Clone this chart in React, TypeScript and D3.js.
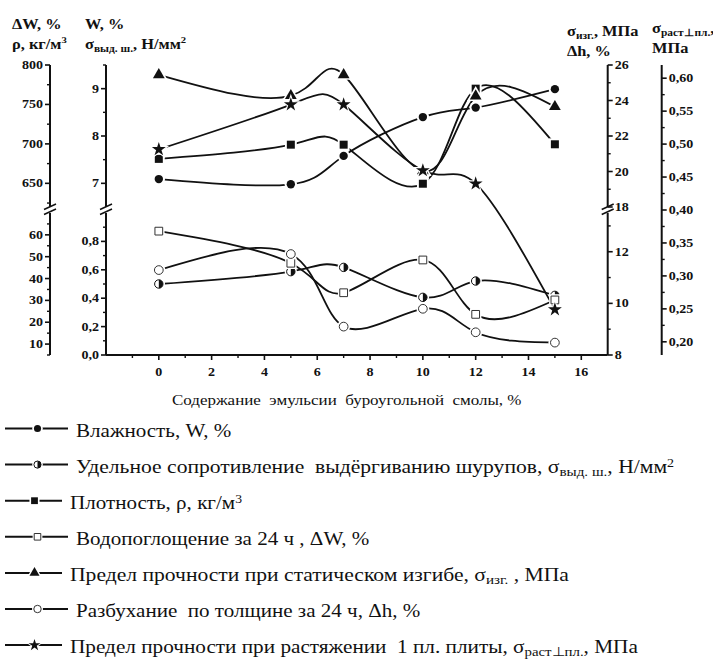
import React from 'react';
import * as d3 from 'd3';

// ---- data ----
const xValues = [0, 5, 7, 10, 12, 15];
const moisture = [7.09, 6.98, 7.58, 8.4, 8.6, 8.99];
const screwResistance = [0.5, 0.587, 0.617, 0.406, 0.521, 0.42];
const density = [681, 699, 699, 649.5, 770, 699.5];
const waterAbsorption = [61.7, 47.0, 33.5, 48.5, 23.6, 30.2];
const bendingStrength = [25.45, 24.27, 25.45, 20.03, 24.25, 23.65];
const swelling = [11.29, 11.91, 9.1, 9.79, 8.88, 8.48];
const tensileStrength = [0.492, 0.56, 0.56, 0.46, 0.44, 0.249];

const xTicks = [0, 2, 4, 6, 8, 10, 12, 14, 16];
const xMinorTicks = [-1, 1, 3, 5, 7, 9, 11, 13, 15];
const densityTicks = [650, 700, 750, 800];
const densityMinor = [625, 675, 725, 775];
const waterTicks = [10, 20, 30, 40, 50, 60];
const waterMinor = [5, 15, 25, 35, 45, 55, 65];
const moistureTicks = [7, 8, 9];
const moistureMinor = [7.5, 8.5, 9.5];
const screwTicks = [0, 0.2, 0.4, 0.6, 0.8];
const screwMinor = [0.1, 0.3, 0.5, 0.7, 0.9];
const bendTicks = [18, 20, 22, 24, 26];
const bendMinor = [19, 21, 23, 25];
const swellTicks = [8, 10, 12];
const swellMinor = [9, 11, 13];
const tensileTicks = [0.2, 0.25, 0.3, 0.35, 0.4, 0.45, 0.5, 0.55, 0.6];
const tensileMinor = [0.225, 0.275, 0.325, 0.375, 0.425, 0.475, 0.525, 0.575];

// ---- layout ----
const W = 713, H = 659;
const UP: [number, number] = [207, 65];
const LO: [number, number] = [355, 213];
const X0 = 106, X1 = 607.7;
const SX = 1.17;
const INK = '#111';

const xScale = d3.scaleLinear([-2, 17], [X0, X1]);
const densityScale = d3.scaleLinear([620, 800], UP);
const waterScale = d3.scaleLinear([5, 70], LO);
const moistureScale = d3.scaleLinear([6.5, 9.5], UP);
const screwScale = d3.scaleLinear([0, 1], LO);
const bendScale = d3.scaleLinear([18, 26], UP);
const swellScale = d3.scaleLinear([8, 13.5], LO);
const tensileScale = d3.scaleLinear([0.18, 0.62], [355, 65]);

const comma = (f: string) => (v: number) => d3.format(f)(v).replace('.', ',');
const nb = (s: string) => s.replace(/  /g, '\u00a0 ');

type Part = { t: string; sub?: boolean; sup?: boolean };

function renderParts(parts: Part[], size: number) {
  let shift = 0;
  return parts.map((p, i) => {
    const target = p.sub ? 3 : p.sup ? -6 : 0;
    const dy = target - shift;
    shift = target;
    return (
      <tspan key={i} dy={dy} fontSize={p.sub ? size * 0.7 : p.sup ? size * 0.65 : size}>
        {nb(p.t)}
      </tspan>
    );
  });
}

function T({ x, y, anchor = 'start', size = 12, weight = 'normal', sx = SX, parts, children }: any) {
  return (
    <g transform={`translate(${x},${y}) scale(${sx},1)`}>
      <text
        x={0}
        y={0}
        textAnchor={anchor}
        fontSize={size}
        fontWeight={weight}
        fill={INK}
        fontFamily="Liberation Serif"
        style={{ fontFamily: '"Liberation Serif"' }}
      >
        {parts ? renderParts(parts, size) : nb(String(children))}
      </text>
    </g>
  );
}

type Seg = { scale: d3.ScaleLinear<number, number>; major: number[]; minor: number[]; fmt: (v: number) => string };

function VAxis({ x, side, segs, brk }: { x: number; side: 'left' | 'right'; segs: Seg[]; brk?: boolean }) {
  const dir = side === 'left' ? -1 : 1;
  return (
    <g>
      {segs.map((s, i) => {
        const r = s.scale.range();
        return (
          <g key={i}>
            <line x1={x} x2={x} y1={r[0]} y2={r[1]} stroke={INK} strokeWidth={2} />
            {s.major.map((v) => (
              <g key={'M' + v}>
                <line x1={x} x2={x + dir * 5} y1={s.scale(v)} y2={s.scale(v)} stroke={INK} strokeWidth={1.6} />
                <T x={x + dir * 7} y={s.scale(v) + 4} anchor={side === 'left' ? 'end' : 'start'} size={12} weight="bold">
                  {s.fmt(v)}
                </T>
              </g>
            ))}
            {s.minor.map((v) => (
              <line key={'m' + v} x1={x} x2={x + dir * 3} y1={s.scale(v)} y2={s.scale(v)} stroke={INK} strokeWidth={1.4} />
            ))}
          </g>
        );
      })}
      {brk && (
        <g stroke={INK} strokeWidth={1.5}>
          <line x1={x - 6} x2={x + 6} y1={209.5} y2={204} />
          <line x1={x - 6} x2={x + 6} y1={214.5} y2={209} />
        </g>
      )}
    </g>
  );
}

type Kind = 'dot' | 'half' | 'sq' | 'osq' | 'tri' | 'ocirc' | 'star';

function Marker({ kind, x, y, scale = 1 }: { kind: Kind; x: number; y: number; scale?: number }) {
  const k = scale;
  const sym = (type: d3.SymbolType, size: number) => d3.symbol(type, size * k * k)() as string;
  const halo = (type: d3.SymbolType, size: number) => (
    <path d={d3.symbol(type, size * k * k * 2.2)() as string} fill="#fff" />
  );
  let body: React.ReactNode = null;
  if (kind === 'dot') body = <>{halo(d3.symbolCircle, 55)}<path d={sym(d3.symbolCircle, 55)} fill={INK} /></>;
  if (kind === 'half') {
    const r = 4.2 * k;
    body = (
      <>
        {halo(d3.symbolCircle, 55)}
        <circle r={r} fill="#fff" stroke={INK} strokeWidth={1} />
        <path d={`M0,${-r}A${r},${r} 0 0 1 0,${r}Z`} fill={INK} />
      </>
    );
  }
  if (kind === 'sq') body = <>{halo(d3.symbolSquare, 64)}<path d={sym(d3.symbolSquare, 64)} fill={INK} /></>;
  if (kind === 'osq') body = <>{halo(d3.symbolSquare, 60)}<path d={sym(d3.symbolSquare, 60)} fill="#fff" stroke="#333" strokeWidth={1} /></>;
  if (kind === 'tri') body = <>{halo(d3.symbolTriangle, 60)}<path d={sym(d3.symbolTriangle, 60)} fill={INK} /></>;
  if (kind === 'ocirc') body = <>{halo(d3.symbolCircle, 60)}<path d={sym(d3.symbolCircle, 60)} fill="#fff" stroke="#333" strokeWidth={1} /></>;
  if (kind === 'star') body = <>{halo(d3.symbolStar, 60)}<path d={sym(d3.symbolStar, 60)} fill={INK} /></>;
  return <g transform={`translate(${x},${y})`}>{body}</g>;
}

const series: { values: number[]; scale: d3.ScaleLinear<number, number>; kind: Kind }[] = [
  { values: moisture, scale: moistureScale, kind: 'dot' },
  { values: screwResistance, scale: screwScale, kind: 'half' },
  { values: density, scale: densityScale, kind: 'sq' },
  { values: waterAbsorption, scale: waterScale, kind: 'osq' },
  { values: bendingStrength, scale: bendScale, kind: 'tri' },
  { values: swelling, scale: swellScale, kind: 'ocirc' },
  { values: tensileStrength, scale: tensileScale, kind: 'star' },
];

const LS = 18;
const legendRows: { kind: Kind; tx: number; sx: number; parts: Part[] }[] = [
  { kind: 'dot', tx: 76, sx: 1.17, parts: [{ t: 'Влажность, W, %' }] },
  { kind: 'half', tx: 76, sx: 1.2, parts: [{ t: 'Удельное сопротивление  выдёргиванию шурупов, σ' }, { t: 'выд. ш.', sub: true }, { t: ', Н/мм' }, { t: '2', sup: true }] },
  { kind: 'sq', tx: 70, sx: 1.17, parts: [{ t: 'Плотность, ρ, кг/м' }, { t: '3', sup: true }] },
  { kind: 'osq', tx: 76, sx: 1.17, parts: [{ t: 'Водопоглощение за 24 ч , ΔW, %' }] },
  { kind: 'tri', tx: 70, sx: 1.2, parts: [{ t: 'Предел прочности при статическом изгибе, σ' }, { t: 'изг.', sub: true }, { t: ' , МПа' }] },
  { kind: 'ocirc', tx: 76, sx: 1.17, parts: [{ t: 'Разбухание  по толщине за 24 ч, Δh, %' }] },
  { kind: 'star', tx: 70, sx: 1.18, parts: [{ t: 'Предел прочности при растяжении  1 пл. плиты, σ' }, { t: 'раст⊥пл.', sub: true }, { t: ', МПа' }] },
];

export default function App() {
  const lineGen = d3.line<[number, number]>().x((d) => d[0]).y((d) => d[1]).curve(d3.curveNatural);
  const TS = 14;
  return (
    <svg width={W} height={H} style={{ position: 'absolute', left: 0, top: 0, background: '#fff' }}>
      <rect width={W} height={H} fill="#fff" />
      {/* axis titles */}
      <T x={12} y={29} size={TS} weight="bold" parts={[{ t: 'ΔW, %' }]} />
      <T x={12} y={49} size={TS} weight="bold" parts={[{ t: 'ρ, кг/м' }, { t: '3', sup: true }]} />
      <T x={85} y={29} size={TS} weight="bold" parts={[{ t: 'W, %' }]} />
      <T x={85} y={49} size={TS} weight="bold" parts={[{ t: 'σ' }, { t: 'выд. ш.', sub: true }, { t: ', Н/мм' }, { t: '2', sup: true }]} />
      <T x={567} y={36} size={TS} weight="bold" parts={[{ t: 'σ' }, { t: 'изг.', sub: true }, { t: ', МПа' }]} />
      <T x={567} y={56} size={TS} weight="bold" parts={[{ t: 'Δh, %' }]} />
      <T x={652} y={33} size={TS} weight="bold" parts={[{ t: 'σ' }, { t: 'раст⊥пл.', sub: true }, { t: ',' }]} />
      <T x={652} y={53} size={TS} weight="bold" parts={[{ t: 'МПа' }]} />

      {/* vertical axes */}
      <VAxis x={50} side="left" brk segs={[
        { scale: densityScale, major: densityTicks, minor: densityMinor, fmt: (v) => String(v) },
        { scale: waterScale, major: waterTicks, minor: waterMinor, fmt: (v) => String(v) },
      ]} />
      <VAxis x={X0} side="left" brk segs={[
        { scale: moistureScale, major: moistureTicks, minor: moistureMinor, fmt: (v) => String(v) },
        { scale: screwScale, major: screwTicks, minor: screwMinor, fmt: comma('.1f') },
      ]} />
      <VAxis x={X1} side="right" brk segs={[
        { scale: bendScale, major: bendTicks, minor: bendMinor, fmt: (v) => String(v) },
        { scale: swellScale, major: swellTicks, minor: swellMinor, fmt: (v) => String(v) },
      ]} />
      <VAxis x={661.7} side="right" segs={[
        { scale: tensileScale, major: tensileTicks, minor: tensileMinor, fmt: comma('.2f') },
      ]} />

      {/* x axis */}
      <line x1={X0} x2={X1} y1={355} y2={355} stroke={INK} strokeWidth={2} />
      {xTicks.map((v) => (
        <g key={v}>
          <line x1={xScale(v)} x2={xScale(v)} y1={355} y2={360} stroke={INK} strokeWidth={1.6} />
          <T x={xScale(v)} y={376} anchor="middle" size={12} weight="bold">{String(v)}</T>
        </g>
      ))}
      {xMinorTicks.map((v) => (
        <line key={v} x1={xScale(v)} x2={xScale(v)} y1={355} y2={358} stroke={INK} strokeWidth={1.4} />
      ))}
      <T x={172} y={405} size={14.5}>{'Содержание  эмульсии  буроугольной  смолы, %'}</T>

      {/* series lines */}
      {series.map((s, i) => (
        <path key={i} d={lineGen(xValues.map((x, j) => [xScale(x), s.scale(s.values[j])]) as [number, number][]) as string}
          fill="none" stroke={INK} strokeWidth={1.8} />
      ))}
      {/* markers */}
      {series.map((s, i) => (
        <g key={i}>
          {xValues.map((x, j) => (
            <Marker key={j} kind={s.kind} x={xScale(x)} y={s.scale(s.values[j])} />
          ))}
        </g>
      ))}

      {/* legend */}
      {legendRows.map((r, i) => {
        const y = 428.5 + i * 36.1;
        return (
          <g key={i}>
            <line x1={5} x2={r.tx - 8} y1={y} y2={y} stroke={INK} strokeWidth={2} />
            <Marker kind={r.kind} x={(5 + r.tx - 8) / 2 + 1} y={y} scale={0.85} />
            <T x={r.tx} y={y + 8} size={LS} sx={r.sx} parts={r.parts} />
          </g>
        );
      })}
    </svg>
  );
}
